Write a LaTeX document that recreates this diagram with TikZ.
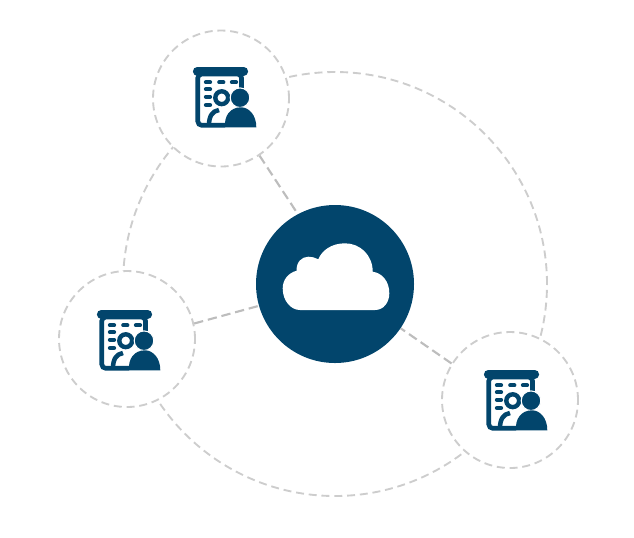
\documentclass[tikz,border=0pt]{standalone}
\usetikzlibrary{backgrounds}
\definecolor{navy}{HTML}{02456C}
\definecolor{ringgray}{HTML}{CDCDCD}
\definecolor{spokegray}{HTML}{BDBDBD}
\tikzset{
  x=0.75pt,y=-0.75pt,
  hub/.style={circle,fill=navy,inner sep=0pt,minimum size=118.5pt},
  station/.style={circle,draw=ringgray,fill=white,line width=1.4pt,dash pattern=on 6pt off 3.6pt,inner sep=0pt,minimum size=102pt},
  bigring/.style={circle,draw=ringgray,line width=1.4pt,dash pattern=on 6pt off 3.6pt,inner sep=0pt,minimum size=318pt},
  spoke/.style={draw=spokegray,line width=1.6pt,dash pattern=on 7pt off 3.6pt},
  icon/.pic={
    % document outline
    \draw[navy,line width=3.5pt,rounded corners=3pt] (66.5,38) -- (66.5,24) -- (22.8,24) -- (22.8,75.3) -- (50,75.3);
    % top bar
    \draw[navy,line width=6.6pt,line cap=round] (22.3,21.2) -- (68.7,21.2);
    % text dashes
    \foreach \px/\py in {29/32.3,42.3/32.3,55/32.3,29/39.3,29/46.7,29/55}
      \draw[navy,line width=3.2pt,line cap=round] (\px+2,\py) -- (\px+6,\py);
    % gear ring
    \draw[navy,line width=3.3pt] (46.7,47.7) circle[radius=6.4];
    % small arc
    \draw[navy,line width=3.4pt] (34,75) .. controls (34,66) and (37.5,61) .. (44,60);
    % person
    \draw[white,line width=0.8pt,fill=navy] (65,47.7) circle[radius=9.8];
    \fill[navy] (50,77.3) .. controls (49,66) and (55,57.3) .. (66,57.3)
      .. controls (74,57.3) and (81.3,65) .. (81.3,77.3) -- cycle;
  }
}
\begin{document}
\begin{tikzpicture}
\useasboundingbox (0,0) rectangle (634,537);
\node[hub] (cloudhub) at (335,284) {};
\node[station] (top) at (221,98.5) {};
\node[station] (left) at (127,339) {};
\node[station] (right) at (510,400) {};
\begin{scope}[on background layer]
  \node[bigring] (orbit) at (335,284) {};
  \draw[spoke] (top.-56) -- (cloudhub.118);
  \draw[spoke] (left.13.6) -- (cloudhub.196.6);
  \draw[spoke] (right.148.5) -- (cloudhub.-34);
\end{scope}
\fill[white] (300,310) -- (375,310)
  .. controls (384,310) and (389.3,302) .. (389.3,293.3)
  .. controls (389.3,281) and (382,273) .. (372.7,271.7)
  .. controls (372.7,255) and (360,243.3) .. (345,243.3)
  .. controls (332,243.3) and (322,250) .. (318.3,259.3)
  .. controls (315,257.5) and (312,256.7) .. (308.3,256.7)
  .. controls (302,256.7) and (296,262) .. (296.7,270.7)
  .. controls (288,273) and (282.7,280) .. (282.7,288.3)
  .. controls (282.7,301) and (291,310) .. (300,310) -- cycle;
\pic at (175,50) {icon};
\pic at (79,293) {icon};
\pic at (466,353) {icon};
\end{tikzpicture}
\end{document}
